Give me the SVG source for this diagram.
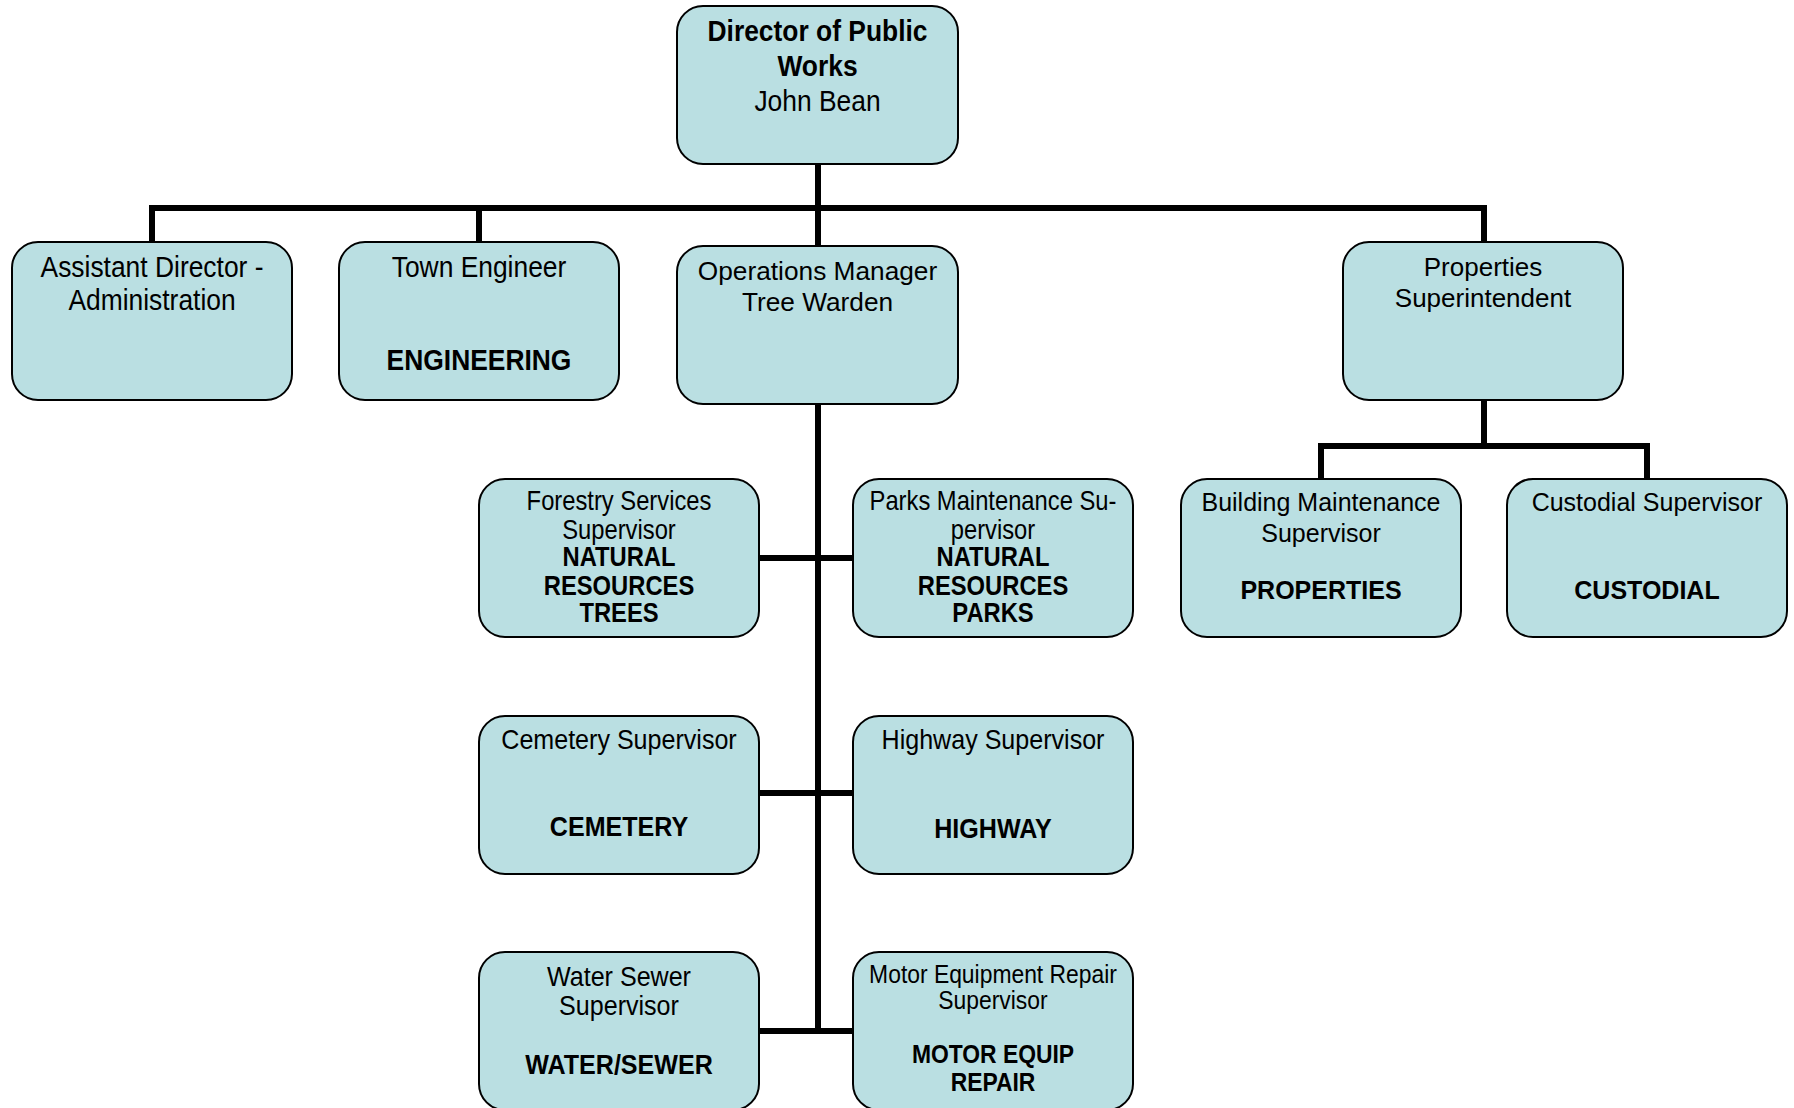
<svg xmlns="http://www.w3.org/2000/svg" width="1794" height="1108" viewBox="0 0 1794 1108">
<style>
.box{fill:#BADFE2;stroke:#000;stroke-width:2}
.t{font-family:"Liberation Sans",Arial,sans-serif;fill:#000;text-anchor:middle}
.b{font-weight:bold}
.con{stroke:#000;stroke-width:6;fill:none;stroke-linecap:square}
</style>
<rect width="1794" height="1108" fill="#fff"/>
<g id="connectors">
<line class="con" x1="818" y1="164" x2="818" y2="246"/>
<line class="con" x1="152" y1="208" x2="1484" y2="208"/>
<line class="con" x1="152" y1="208" x2="152" y2="242"/>
<line class="con" x1="479" y1="208" x2="479" y2="242"/>
<line class="con" x1="1484" y1="208" x2="1484" y2="242"/>
<line class="con" x1="818" y1="404" x2="818" y2="1031"/>
<line class="con" x1="759" y1="558" x2="853" y2="558"/>
<line class="con" x1="759" y1="793" x2="853" y2="793"/>
<line class="con" x1="759" y1="1031" x2="853" y2="1031"/>
<line class="con" x1="1484" y1="400" x2="1484" y2="446"/>
<line class="con" x1="1321" y1="446" x2="1647" y2="446"/>
<line class="con" x1="1321" y1="446" x2="1321" y2="479"/>
<line class="con" x1="1647" y1="446" x2="1647" y2="479"/>
</g>
<g id="director">
<rect class="box" x="677" y="6" width="281" height="158" rx="26"/>
<g transform="translate(817.5 0) scale(0.88 1)" class="t" font-size="30">
<text class="b" x="0" y="41">Director of Public</text>
<text class="b" x="0" y="76">Works</text>
<text x="0" y="111">John Bean</text>
</g>
</g>
<g id="asst-director">
<rect class="box" x="12" y="242" width="280" height="158" rx="26"/>
<g transform="translate(152 0) scale(0.88 1)" class="t" font-size="30">
<text x="0" y="277">Assistant Director -</text>
<text x="0" y="310">Administration</text>
</g>
</g>
<g id="town-engineer">
<rect class="box" x="339" y="242" width="280" height="158" rx="26"/>
<g transform="translate(479 0) scale(0.88 1)" class="t" font-size="30">
<text x="0" y="277">Town Engineer</text>
<text class="b" x="0" y="370">ENGINEERING</text>
</g>
</g>
<g id="ops-manager">
<rect class="box" x="677" y="246" width="281" height="158" rx="26"/>
<g transform="translate(817.5 0) scale(1.01 1)" class="t" font-size="26">
<text x="0" y="280">Operations Manager</text>
<text x="0" y="311">Tree Warden</text>
</g>
</g>
<g id="properties-super">
<rect class="box" x="1343" y="242" width="280" height="158" rx="26"/>
<g class="t" font-size="26">
<text x="1483" y="276">Properties</text>
<text x="1483" y="307">Superintendent</text>
</g>
</g>
<g id="forestry">
<rect class="box" x="479" y="479" width="280" height="158" rx="26"/>
<g transform="translate(619 0) scale(0.88 1)" class="t" font-size="27">
<text x="0" y="510">Forestry Services</text>
<text x="0" y="539">Supervisor</text>
<text class="b" x="0" y="566">NATURAL</text>
<text class="b" x="0" y="595">RESOURCES</text>
<text class="b" x="0" y="622">TREES</text>
</g>
</g>
<g id="parks">
<rect class="box" x="853" y="479" width="280" height="158" rx="26"/>
<g transform="translate(993 0) scale(0.88 1)" class="t" font-size="27">
<text x="0" y="510">Parks Maintenance Su-</text>
<text x="0" y="539">pervisor</text>
<text class="b" x="0" y="566">NATURAL</text>
<text class="b" x="0" y="595">RESOURCES</text>
<text class="b" x="0" y="622">PARKS</text>
</g>
</g>
<g id="building-maint">
<rect class="box" x="1181" y="479" width="280" height="158" rx="26"/>
<g class="t" font-size="25">
<text x="1321" y="511">Building Maintenance</text>
<text x="1321" y="542">Supervisor</text>
<text class="b" x="1321" y="599">PROPERTIES</text>
</g>
</g>
<g id="custodial">
<rect class="box" x="1507" y="479" width="280" height="158" rx="26"/>
<g class="t" font-size="25">
<text x="1647" y="511">Custodial Supervisor</text>
<text class="b" x="1647" y="599">CUSTODIAL</text>
</g>
</g>
<g id="cemetery">
<rect class="box" x="479" y="716" width="280" height="158" rx="26"/>
<g transform="translate(619 0) scale(0.88 1)" class="t" font-size="28.5">
<text x="0" y="749">Cemetery Supervisor</text>
<text class="b" x="0" y="836">CEMETERY</text>
</g>
</g>
<g id="highway">
<rect class="box" x="853" y="716" width="280" height="158" rx="26"/>
<g transform="translate(993 0) scale(0.88 1)" class="t" font-size="28.5">
<text x="0" y="749">Highway Supervisor</text>
<text class="b" x="0" y="838">HIGHWAY</text>
</g>
</g>
<g id="water-sewer">
<rect class="box" x="479" y="952" width="280" height="158" rx="26"/>
<g transform="translate(619 0) scale(0.88 1)" class="t" font-size="28.5">
<text x="0" y="986">Water Sewer</text>
<text x="0" y="1015">Supervisor</text>
<text class="b" x="0" y="1074">WATER/SEWER</text>
</g>
</g>
<g id="motor-equip">
<rect class="box" x="853" y="952" width="280" height="158" rx="26"/>
<g transform="translate(993 0) scale(0.88 1)" class="t" font-size="26">
<text x="0" y="983">Motor Equipment Repair</text>
<text x="0" y="1009">Supervisor</text>
<text class="b" x="0" y="1063">MOTOR EQUIP</text>
<text class="b" x="0" y="1091">REPAIR</text>
</g>
</g>
</svg>
